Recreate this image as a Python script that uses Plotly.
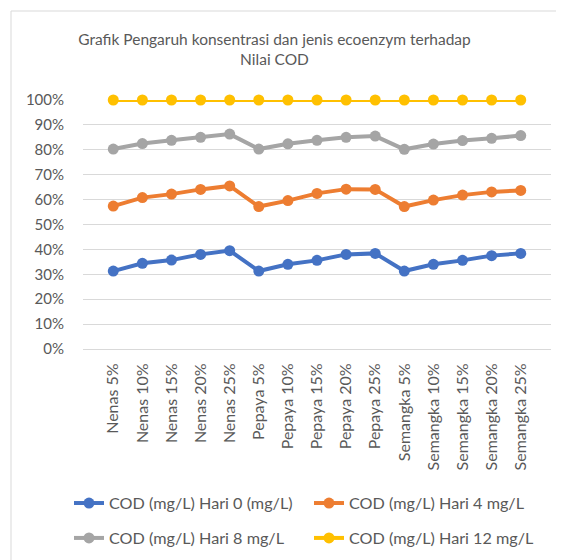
import plotly.graph_objects as go

categories = ["Nenas 5%", "Nenas 10%", "Nenas 15%", "Nenas 20%", "Nenas 25%",
              "Pepaya 5%", "Pepaya 10%", "Pepaya 15%", "Pepaya 20%", "Pepaya 25%",
              "Semangka 5%", "Semangka 10%", "Semangka 15%", "Semangka 20%", "Semangka 25%"]

hari0 = [0.313, 0.344, 0.357, 0.380, 0.395,
         0.313, 0.340, 0.356, 0.380, 0.384,
         0.313, 0.340, 0.356, 0.375, 0.384]
hari4 = [0.574, 0.608, 0.622, 0.641, 0.655,
         0.572, 0.596, 0.625, 0.642, 0.641,
         0.572, 0.598, 0.618, 0.631, 0.637]
hari8 = [0.803, 0.825, 0.838, 0.850, 0.863,
         0.803, 0.824, 0.838, 0.850, 0.855,
         0.802, 0.823, 0.837, 0.846, 0.857]
hari12 = [1.0] * 15

series_names = ["COD (mg/L) Hari 0 (mg/L)", "COD (mg/L) Hari 4 mg/L",
                "COD (mg/L) Hari 8 mg/L", "COD (mg/L) Hari 12 mg/L"]
series_values = [hari0, hari4, hari8, hari12]
series_colors = ["#4472C4", "#ED7D31", "#A5A5A5", "#FFC000"]

FONT = "Lato"
GREY = "#595959"
W, H = 556, 552
L, R, T, B = 75, 13, 92, 211
PW, PH = W - L - R, H - T - B

# legend placement (figure px): (item origin x, row centre y)
legend_pos = [(61, 495.5), (301, 495.5), (61, 530.4), (301, 530.4)]
legend_ids = ["legend", "legend2", "legend3", "legend4"]

fig = go.Figure()
for name, vals, color, lg in zip(series_names, series_values, series_colors, legend_ids):
    fig.add_trace(go.Scatter(
        x=categories, y=vals, name=name, mode="lines+markers",
        line=dict(color=color, width=4),
        marker=dict(color=color, size=11),
        cliponaxis=False, legend=lg,
    ))

legend_layout = {}
for lg, (lx, ly) in zip(legend_ids, legend_pos):
    legend_layout[lg] = dict(orientation="h", xref="container", yref="container",
                             x=lx / W, xanchor="left", y=1 - ly / H, yanchor="middle",
                             font=dict(size=16.2, color=GREY),
                             bgcolor="rgba(0,0,0,0)")

fig.update_layout(
    width=W, height=H,
    margin=dict(l=L, r=R, t=T, b=B, autoexpand=False),
    paper_bgcolor="white", plot_bgcolor="white",
    font=dict(family=FONT, color=GREY, size=15),
    title=dict(text="Grafik Pengaruh konsentrasi dan jenis ecoenzym terhadap<br>Nilai COD",
               x=266.5 / W, xanchor="center", xref="container",
               y=1 - 37 / H, yanchor="middle", yref="container",
               font=dict(family=FONT, size=15.5, color=GREY)),
    xaxis=dict(type="category", tickangle=-90, showgrid=False,
               showline=True, linecolor="#D9D9D9", linewidth=1,
               ticks="", ticklabelstandoff=7,
               tickfont=dict(size=16, color=GREY)),
    yaxis=dict(range=[0, 1], dtick=0.1, tickformat=".0%",
               showgrid=True, gridcolor="#D9D9D9", gridwidth=1,
               zeroline=False, ticks="", ticklabelstandoff=18,
               tickfont=dict(size=15, color=GREY)),
    showlegend=True,
    **legend_layout,
)

fig.add_shape(type="rect", xref="paper", yref="paper",
              x0=(3 - L) / PW, x1=(W + 20 - L) / PW,
              y0=-(H + 20 - (H - B)) / PH, y1=(H - B - 3) / PH,
              line=dict(color="#D9D9D9", width=1), layer="below")

fig.write_html("out.html")
